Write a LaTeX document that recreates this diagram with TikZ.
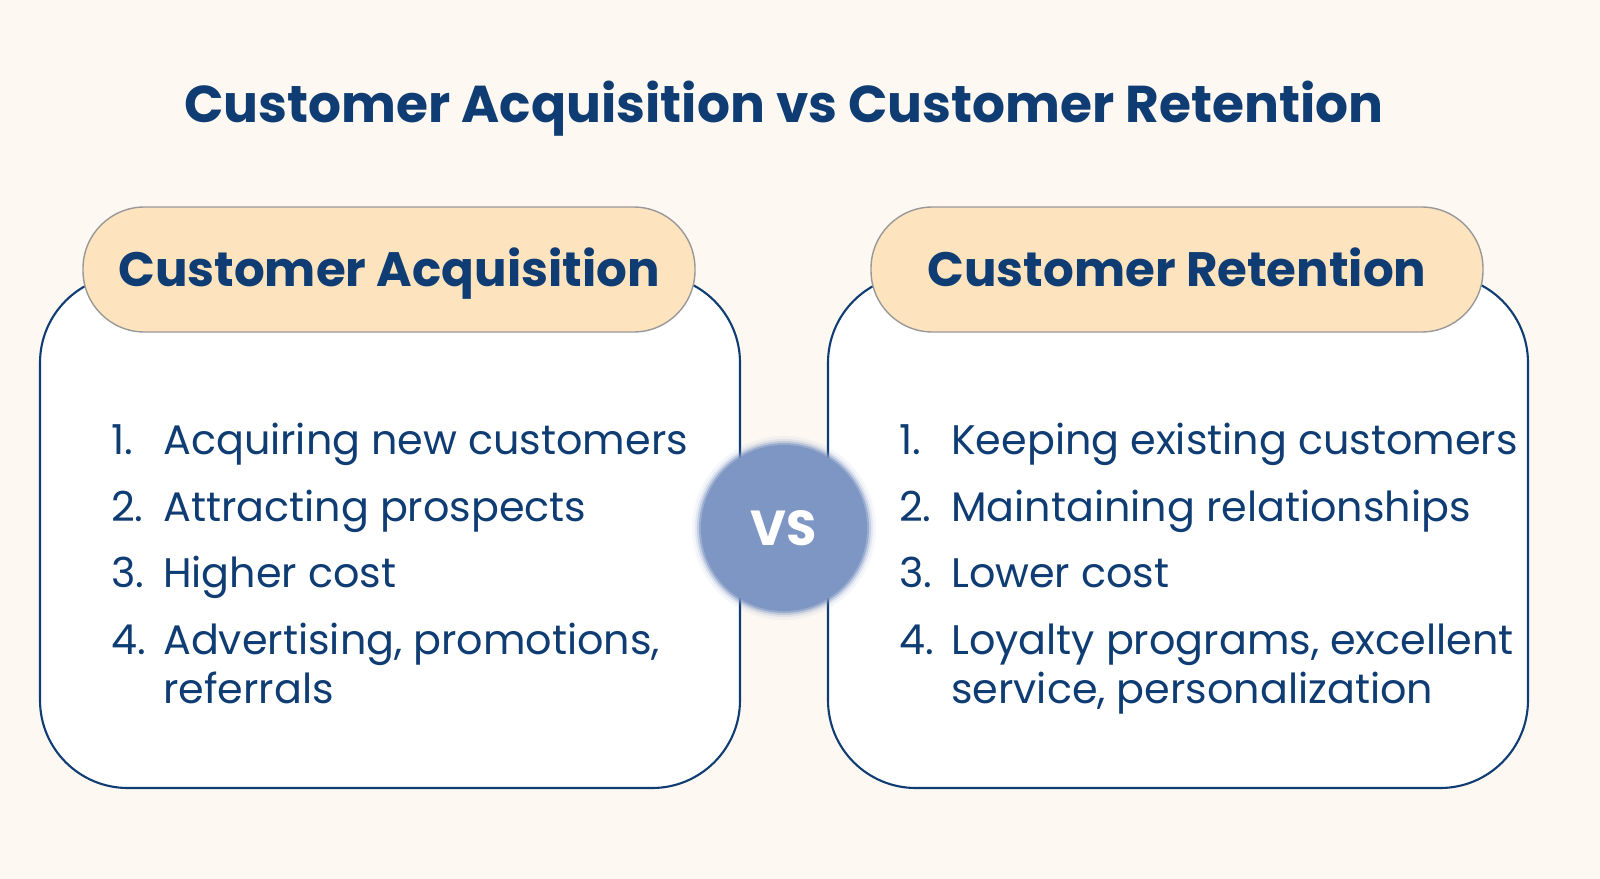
\documentclass[tikz,border=0pt]{standalone}
\usepackage{fontspec}
\setmainfont{Poppins}
\usetikzlibrary{calc}
\definecolor{bg}{HTML}{FDF8F2}
\definecolor{navy}{HTML}{0F3D73}
\definecolor{pill}{HTML}{FDE3BE}
\definecolor{vs}{HTML}{7D96C4}
\tikzset{
 panel/.style={draw=navy,line width=1.2pt,fill=white,rounded corners=50pt},
 pillbox/.style={draw=gray!80,line width=0.8pt,fill=pill,rounded corners=35pt},
 item/.style={anchor=base west,text=navy,font=\fontsize{23.5}{28}\selectfont},
 head/.style={anchor=base,text=navy,font=\fontsize{27.5}{32}\selectfont\bfseries},
}
\begin{document}
\begin{tikzpicture}[x=0.02cm,y=-0.02cm]
\fill[bg] (0,0) rectangle (1600,879);
\useasboundingbox (0,0) rectangle (1600,879);
\node[head,font=\fontsize{29.5}{34}\selectfont\bfseries] (title) at (784,122) {Customer Acquisition vs Customer Retention};
\foreach \ox/\nm/\lab in {0/L/Customer Acquisition,788/R/Customer Retention}{
 \draw[panel] (40+\ox,275) rectangle (740+\ox,788);
 \draw[pillbox] (83+\ox,207) rectangle (695+\ox,332);
 \node[head] (p\nm) at (389+\ox,286) {\lab};
}
\foreach \y/\n in {454/1,521/2,587/3,654/4}{
 \node[item] (nl\n) at (105,\y) {\n.};
 \node[item] (nr\n) at (893,\y) {\n.};
}
\node[item] (l1) at (157,454) {Acquiring new customers};
\node[item] (l2) at (157,521) {Attracting prospects};
\node[item] (l3) at (157,587) {Higher cost};
\node[item] (l4) at (157,654) {Advertising, promotions,};
\node[item] (l4b) at (157,703) {referrals};
\node[item] (r1) at (945,454) {Keeping existing customers};
\node[item] (r2) at (945,521) {Maintaining relationships};
\node[item] (r3) at (945,587) {Lower cost};
\node[item] (r4) at (945,654) {Loyalty programs, excellent};
\node[item] (r4b) at (945,703) {service, personalization};
\foreach \r/\o in {92/0.08,89/0.15,87/0.3,85/0.6}{\fill[vs,opacity=\o] (784,528) circle (\r);}
\fill[vs] (784,528) circle (83);
\node[text=white,font=\fontsize{28}{32}\selectfont\bfseries] (vs) at (784,528) {VS};
\end{tikzpicture}
\end{document}
